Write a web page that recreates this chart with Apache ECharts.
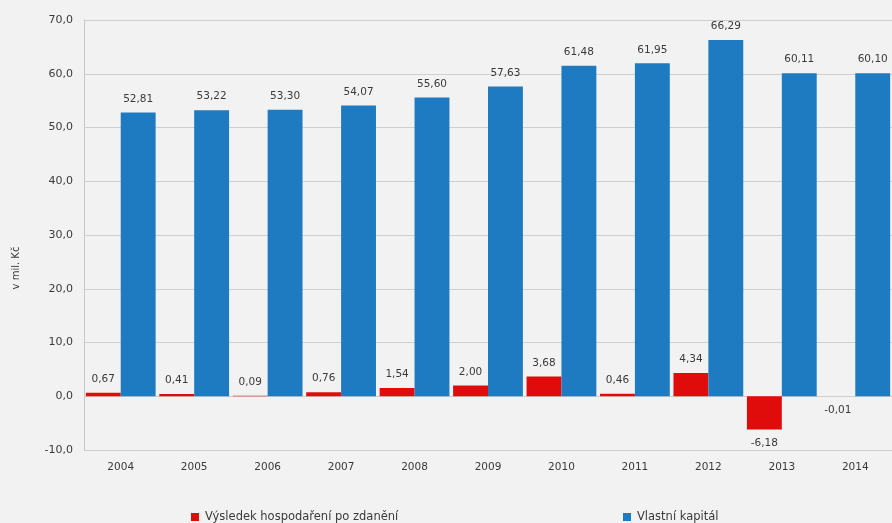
<!DOCTYPE html>
<html><head><meta charset="utf-8">
<script src="https://cdn.jsdelivr.net/npm/echarts@6/dist/echarts.min.js"></script>
<style>html,body{margin:0;padding:0;background:#f2f2f2}#c{width:892px;height:523px}</style>
</head><body><div id="c"></div>
<script>
const years = ['2004','2005','2006','2007','2008','2009','2010','2011','2012','2013','2014'];
const vysledek = [0.67, 0.41, 0.09, 0.76, 1.54, 2.00, 3.68, 0.46, 4.34, -6.18, -0.01];
const kapital = [52.81, 53.22, 53.30, 54.07, 55.60, 57.63, 61.48, 61.95, 66.29, 60.11, 60.10];
const yTicks = [-10, 0, 10, 20, 30, 40, 50, 60, 70];
const seriesNames = ['Výsledek hospodaření po zdanění', 'Vlastní kapitál'];
const yAxisTitle = 'v mil. Kč';

const fmt = v => v.toFixed(2).replace('.', ',');
const font = '"DejaVu Sans", sans-serif';
const txt = '#3a3a3a';
const labelStyle = {show: true, fontSize: 10.5, color: txt, fontFamily: font, distance: 8, formatter: p => fmt(p.value)};

const chart = echarts.init(document.getElementById('c'), null, {renderer: 'canvas'});
chart.setOption({
  backgroundColor: '#f2f2f2',
  animation: false,
  grid: {left: 84, top: 20, bottom: 73, width: 813},
  graphic: [{type: 'text', x: 16, y: 268, rotation: Math.PI / 2,
    style: {text: yAxisTitle, font: '10px ' + font, fill: txt, textAlign: 'center', textVerticalAlign: 'middle'}}],
  legend: [
    {data: [seriesNames[0]], left: 186, top: 506, icon: 'rect', itemWidth: 8, itemHeight: 8, itemGap: 4,
      textStyle: {fontSize: 11.5, color: txt, fontFamily: font, padding: [0, 0, 0, 1]}},
    {data: [seriesNames[1]], left: 618, top: 506, icon: 'rect', itemWidth: 8, itemHeight: 8, itemGap: 4,
      textStyle: {fontSize: 11.5, color: txt, fontFamily: font, padding: [0, 0, 0, 1]}}
  ],
  xAxis: {type: 'category', data: years,
    axisLine: {onZero: false, show: false}, axisTick: {show: false},
    axisLabel: {fontSize: 10.5, color: txt, fontFamily: font, margin: 12}},
  yAxis: {type: 'value', min: yTicks[0], max: yTicks[yTicks.length - 1], interval: 10,
    axisLine: {show: true, lineStyle: {color: '#c8c8c8'}}, axisTick: {show: false},
    splitLine: {lineStyle: {color: '#cfcfcf'}},
    axisLabel: {fontSize: 11, color: txt, fontFamily: font, margin: 11, formatter: v => v.toFixed(1).replace('.', ',')}},
  series: [
    {name: seriesNames[0], type: 'bar', barGap: '0%', barCategoryGap: '5%',
      itemStyle: {color: '#e00c0c'},
      data: vysledek.map(v => ({value: v, label: {position: v < 0 ? 'bottom' : 'top'}})),
      label: labelStyle},
    {name: seriesNames[1], type: 'bar', barGap: '0%', barCategoryGap: '5%',
      itemStyle: {color: '#1f7bc1'},
      data: kapital,
      label: Object.assign({}, labelStyle, {position: 'top'})}
  ]
});
</script></body></html>
